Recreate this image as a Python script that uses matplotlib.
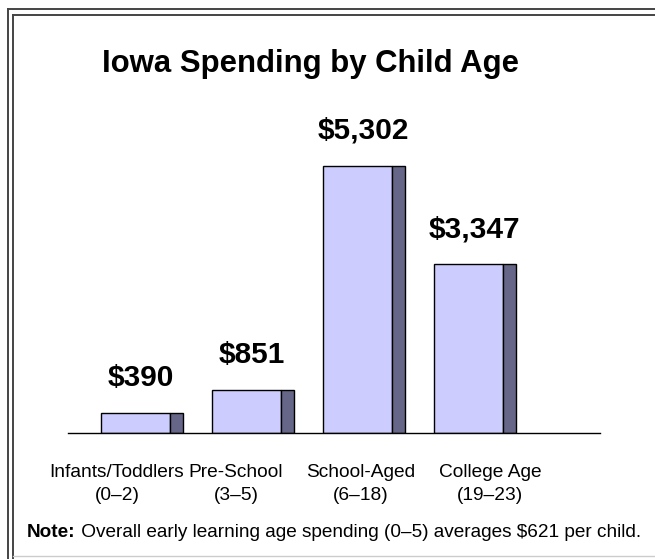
import matplotlib
matplotlib.use("Agg")
import matplotlib.pyplot as plt
from matplotlib.lines import Line2D

plt.rcParams['font.family'] = ['Liberation Sans', 'DejaVu Sans']

# data
category_names = ['Infants/Toddlers', 'Pre-School', 'School-Aged', 'College Age']
age_ranges = ['(0\u20132)', '(3\u20135)', '(6\u201318)', '(19\u201323)']
spending = [390, 851, 5302, 3347]
value_labels = ['$390', '$851', '$5,302', '$3,347']
title = 'Iowa Spending by Child Age'
note_bold = 'Note:'
note_text = ' Overall early learning age spending (0\u20135) averages $621 per child.'

W, H = 655, 559
fig = plt.figure(figsize=(W / 100, H / 100), dpi=100)

def px(x, y):
    return x / W, 1 - y / H

# axes placed in pixel terms: baseline at y=433, from x=68 to 600
ymax = 6600
ax_h = ymax * 0.05036
ax = fig.add_axes([68 / W, (H - 433) / H, (600 - 68) / W, ax_h / H])
ax.set_xlim(-0.667, 4.126)
ax.set_ylim(0, ymax)

xs = range(len(spending))
front_w, side_w = 0.622, 0.117
ax.bar([x - 0.369 for x in xs], spending, width=front_w, align='edge',
       color='#ccccff', edgecolor='black', linewidth=1, zorder=3)
ax.bar([x - 0.369 + front_w for x in xs], spending, width=side_w, align='edge',
       color='#666688', edgecolor='black', linewidth=1, zorder=3)

for x, v, lab in zip(xs, spending, value_labels):
    ax.annotate(lab, (x, v), xytext=(-1, 27), textcoords='offset pixels',
                ha='center', va='baseline', fontsize=21.5, fontweight='bold')

for s in ['top', 'right', 'left']:
    ax.spines[s].set_visible(False)
ax.spines['bottom'].set_linewidth(1)
ax.spines['bottom'].set_zorder(4)
ax.set_xticks([])
ax.set_yticks([])
ax.patch.set_visible(False)

# category labels (two lines each)
label_px = [117, 236, 361, 490]
for lx, name, ages in zip(label_px, category_names, age_ranges):
    fx, fy = px(lx, 477)
    fig.text(fx, fy, name, ha='center', va='baseline', fontsize=13.8)
    fx, fy = px(lx, 500)
    fig.text(fx, fy, ages, ha='center', va='baseline', fontsize=13.8)

# title
fx, fy = px(310, 72)
fig.text(fx, fy, title, ha='center', va='baseline', fontsize=22.4,
         fontweight='bold')

# note line
fx, fy = px(27, 537)
t1 = fig.text(fx, fy, note_bold, ha='left', va='baseline', fontsize=13.7,
              fontweight='bold')
fig.canvas.draw()
bb = t1.get_window_extent(fig.canvas.get_renderer())
fig.text(bb.x1 / W, fy, note_text, ha='left', va='baseline', fontsize=13.7)

# frame lines
def line(x0, y0, x1, y1, c='#444444', lw=1.4):
    a, b = px(x0, y0)
    c2, d = px(x1, y1)
    fig.add_artist(Line2D([a, c2], [b, d], color=c, lw=lw,
                          transform=fig.transFigure))

line(7.5, 8.5, 7.5, H)
line(7.5, 8.5, W, 8.5)
line(12.5, 14.5, 12.5, H)
line(12.5, 14.5, W, 14.5)
line(12.5, 556, W, 556, c='#cccccc', lw=1)

fig.savefig('out.png', dpi=100)
